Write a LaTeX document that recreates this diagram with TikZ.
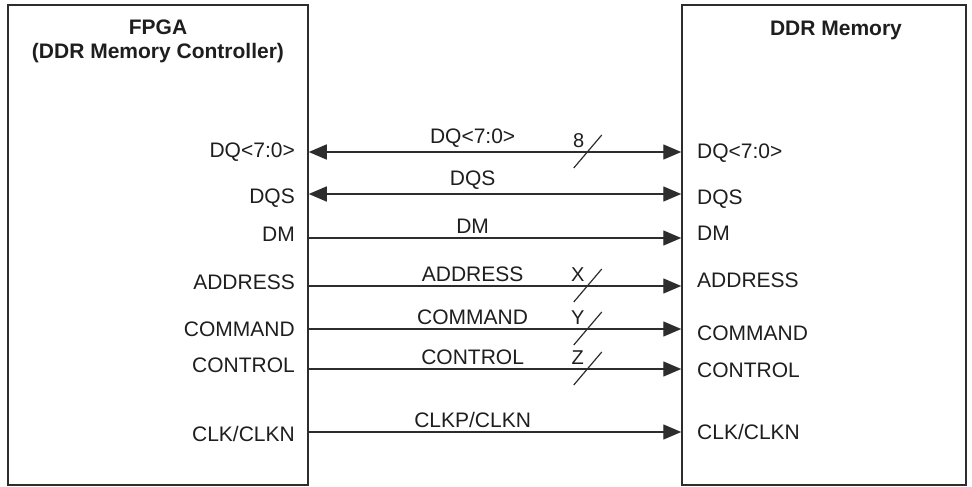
\documentclass[tikz,border=0pt]{standalone}
\usepackage{fontspec}
\setmainfont{Liberation Sans}
\usepackage{tikz}
\usetikzlibrary{arrows.meta, positioning, calc}
\definecolor{mydark}{RGB}{30,30,30}
\definecolor{myline}{RGB}{45,45,45}
\tikzset{
  chipbox/.style={rectangle, draw=myline, line width=1.5pt, inner sep=0pt},
  titletxt/.style={font=\fontsize{21}{24}\selectfont\bfseries, text=mydark,
    align=center, inner sep=0pt},
  pinlbl/.style={font=\fontsize{21}{24}\selectfont, text=mydark, inner sep=0pt},
  siglbl/.style={font=\fontsize{21}{24}\selectfont, text=mydark, inner sep=1pt, above=3pt},
  buslbl/.style={font=\fontsize{20}{24}\selectfont, text=mydark, inner sep=0pt},
  sigarrow/.style={-{Triangle[length=18pt, width=15pt]}, line width=1.4pt, color=myline},
  biarrow/.style={{Triangle[length=18pt, width=15pt]}-{Triangle[length=18pt, width=15pt]},
    line width=1.4pt, color=myline},
  slash/.style={line width=1.2pt, color=myline}
}

\begin{document}
\begin{tikzpicture}[x=1pt, y=-1pt]
  \useasboundingbox (0,0) rectangle (972,487);

  % Chips
  \node[chipbox, minimum width=300pt, minimum height=480pt] (fpga) at (158,245) {};
  \node[chipbox, minimum width=284pt, minimum height=480pt] (ddr) at (824,245) {};
  \node[titletxt] (fpgatitle) at (158,41) {FPGA\\(DDR Memory Controller)};
  \node[titletxt] (ddrtitle) at (836,30) {DDR Memory};

  % Rows
  \coordinate (rowDQ) at (0,152);
  \coordinate (rowDQS) at (0,194);
  \coordinate (rowDM) at (0,238);
  \coordinate (rowADDR) at (0,286);
  \coordinate (rowCMD) at (0,329);
  \coordinate (rowCTL) at (0,369);
  \coordinate (rowCLK) at (0,432);

  % FPGA pins
  \node[pinlbl, anchor=mid east] (lDQ) at (295,155) {DQ<7:0>};
  \node[pinlbl, anchor=mid east] (lDQS) at (295,201) {DQS};
  \node[pinlbl, anchor=mid east] (lDM) at (295,239) {DM};
  \node[pinlbl, anchor=mid east] (lADDR) at (295,287) {ADDRESS};
  \node[pinlbl, anchor=mid east] (lCMD) at (295,334) {COMMAND};
  \node[pinlbl, anchor=mid east] (lCTL) at (295,370) {CONTROL};
  \node[pinlbl, anchor=mid east] (lCLK) at (295,439) {CLK/CLKN};

  % Memory pins
  \node[pinlbl, anchor=mid west] (rDQ) at (697,156) {DQ<7:0>};
  \node[pinlbl, anchor=mid west] (rDQS) at (697,202) {DQS};
  \node[pinlbl, anchor=mid west] (rDM) at (697,238) {DM};
  \node[pinlbl, anchor=mid west] (rADDR) at (697,285) {ADDRESS};
  \node[pinlbl, anchor=mid west] (rCMD) at (697,338) {COMMAND};
  \node[pinlbl, anchor=mid west] (rCTL) at (697,375) {CONTROL};
  \node[pinlbl, anchor=mid west] (rCLK) at (697,437) {CLK/CLKN};

  % Signals
  \draw[biarrow] (fpga.east |- rowDQ) -- (ddr.west |- rowDQ)
    node[siglbl, pos=0.44] {DQ<7:0>} coordinate[pos=0.749] (busDQ);
  \draw[biarrow] (fpga.east |- rowDQS) -- (ddr.west |- rowDQS)
    node[siglbl, pos=0.44] {DQS};
  \draw[sigarrow] (fpga.east |- rowDM) -- (ddr.west |- rowDM)
    node[siglbl, pos=0.44] {DM};
  \draw[sigarrow] (fpga.east |- rowADDR) -- (ddr.west |- rowADDR)
    node[siglbl, pos=0.44] {ADDRESS} coordinate[pos=0.749] (busADDR);
  \draw[sigarrow] (fpga.east |- rowCMD) -- (ddr.west |- rowCMD)
    node[siglbl, pos=0.44] {COMMAND} coordinate[pos=0.749] (busCMD);
  \draw[sigarrow] (fpga.east |- rowCTL) -- (ddr.west |- rowCTL)
    node[siglbl, pos=0.44] {CONTROL} coordinate[pos=0.749] (busCTL);
  \draw[sigarrow] (fpga.east |- rowCLK) -- (ddr.west |- rowCLK)
    node[siglbl, pos=0.44] {CLKP/CLKN};

  % Bus widths
  \draw[slash] (busDQ) ++(-14,16) -- ++(28,-33);
  \node[buslbl] (wDQ) at ([shift={(-9,-11)}]busDQ) {8};
  \draw[slash] (busADDR) ++(-14,16) -- ++(28,-33);
  \node[buslbl] (wADDR) at ([shift={(-10,-11)}]busADDR) {X};
  \draw[slash] (busCMD) ++(-14,16) -- ++(28,-33);
  \node[buslbl] (wCMD) at ([shift={(-10,-11)}]busCMD) {Y};
  \draw[slash] (busCTL) ++(-14,16) -- ++(28,-33);
  \node[buslbl] (wCTL) at ([shift={(-10,-11)}]busCTL) {Z};
\end{tikzpicture}
\end{document}
